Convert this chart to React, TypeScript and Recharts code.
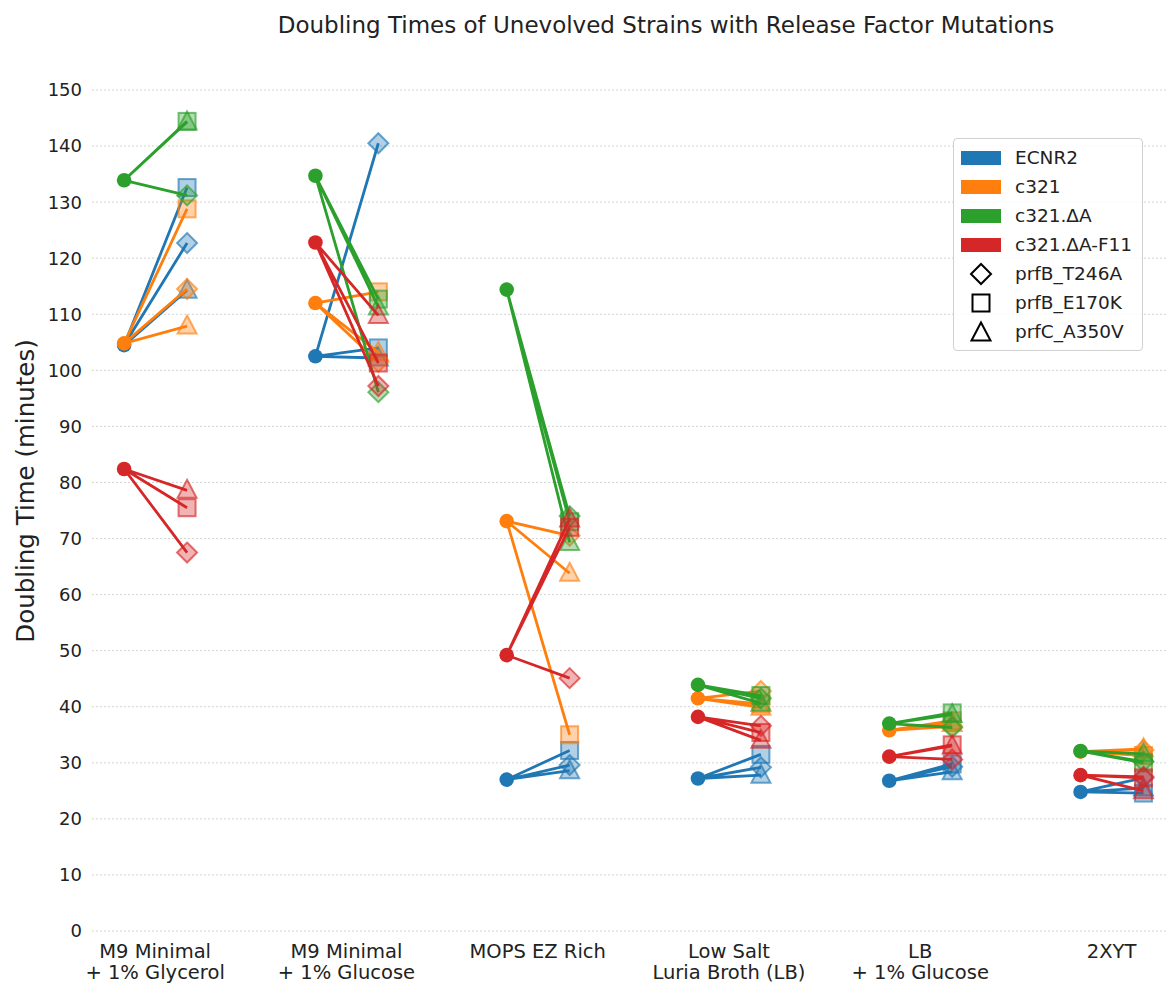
import { ScatterChart, Scatter, XAxis, YAxis, CartesianGrid, Legend } from 'recharts'

const conditionLabels = [
  ['M9 Minimal', '+ 1% Glycerol'],
  ['M9 Minimal', '+ 1% Glucose'],
  ['MOPS EZ Rich', ''],
  ['Low Salt', 'Luria Broth (LB)'],
  ['LB', '+ 1% Glucose'],
  ['2XYT', ''],
]

const strains = ['ECNR2', 'c321', 'c321.ΔA', 'c321.ΔA-F11']
const strainColors = ['#1f77b4', '#ff7f0e', '#2ca02c', '#d62728']
const mutations = ['prfB_T246A', 'prfB_E170K', 'prfC_A350V']
const yTicks = [0, 10, 20, 30, 40, 50, 60, 70, 80, 90, 100, 110, 120, 130, 140, 150]

// unevolved (circle) doubling times, one per condition
const ecnr2Base = [104.5, 102.5, 27.0, 27.2, 26.8, 24.8]
const c321Base = [104.8, 112.0, 73.1, 41.5, 35.8, 32.0]
const c321dABase = [133.9, 134.7, 114.4, 43.9, 37.0, 32.1]
const f11Base = [82.4, 122.8, 49.2, 38.2, 31.1, 27.8]

// mutants: T246A, E170K, A350V
const ecnr2Mut = [
  [122.7, 140.5, 29.6, 29.2, 29.3, 27.3],
  [132.6, 104.0, 32.2, 31.5, 29.8, 24.6],
  [114.3, 102.2, 28.6, 27.8, 28.4, 25.5],
]
const c321Mut = [
  [114.5, 101.5, 70.5, 42.8, 36.5, 32.3],
  [128.8, 114.0, 35.0, 40.5, 37.5, 31.3],
  [107.9, 103.2, 63.8, 39.9, 37.0, 32.5],
]
const c321dAMut = [
  [131.2, 96.1, 74.0, 41.5, 36.3, 30.2],
  [144.4, 112.7, 73.0, 42.0, 38.9, 30.0],
  [144.3, 111.3, 69.3, 40.6, 38.6, 31.6],
]
const f11Mut = [
  [67.5, 97.2, 45.1, 36.6, 30.6, 27.5],
  [75.5, 101.3, 72.0, 35.4, 33.2, 27.3],
  [78.6, 109.8, 73.5, 34.0, 33.0, 25.0],
]

const baseVals = [ecnr2Base, c321Base, c321dABase, f11Base]
const mutVals = [ecnr2Mut, c321Mut, c321dAMut, f11Mut]

const LEFT = -0.162
const RIGHT = 0.167

const font = 'DejaVu Sans, sans-serif'

function markerShape(kind: number, color: string) {
  return (props: any) => {
    const { cx, cy } = props
    const common = {
      fill: color,
      fillOpacity: 0.35,
      stroke: color,
      strokeOpacity: 0.65,
      strokeWidth: 2,
    }
    if (kind === 0) {
      const r = 10
      return <path d={`M${cx},${cy - r}L${cx + r},${cy}L${cx},${cy + r}L${cx - r},${cy}Z`} {...common} />
    }
    if (kind === 1) {
      return <rect x={cx - 8.5} y={cy - 8.5} width={17} height={17} {...common} />
    }
    return <path d={`M${cx},${cy - 10.5}L${cx + 9.5},${cy + 7.5}L${cx - 9.5},${cy + 7.5}Z`} {...common} />
  }
}

const dot = (color: string) => (props: any) => <circle cx={props.cx} cy={props.cy} r={7.3} fill={color} />
const noShape = () => <g />

function XTick(props: any) {
  const { x, y, payload } = props
  const lines = conditionLabels[payload.value]
  return (
    <text x={x} y={y} textAnchor="middle" fontSize={19.5} fontFamily={font} fill="#222">
      <tspan x={x} dy={19}>{lines[0]}</tspan>
      <tspan x={x} dy={21}>{lines[1]}</tspan>
    </text>
  )
}

function YLabel() {
  return (
    <text
      x={34}
      y={491}
      transform="rotate(-90, 34, 491)"
      textAnchor="middle"
      fontSize={24.5}
      fontFamily={font}
      fill="#222"
    >
      Doubling Time (minutes)
    </text>
  )
}

function LegendBox() {
  const row = { display: 'flex', alignItems: 'center', height: 29 }
  const sym = { width: 40, display: 'flex', justifyContent: 'center', marginRight: 14 }
  return (
    <div
      style={{
        border: '1px solid #d0d0d0',
        borderRadius: 4,
        background: 'rgba(255,255,255,0.85)',
        padding: '4px 8px 4px 7px',
        fontFamily: font,
        fontSize: 18.5,
        color: '#222',
        width: 173,
        whiteSpace: 'nowrap',
      }}
    >
      {strains.map((s, i) => (
        <div key={s} style={row}>
          <div style={sym}>
            <div style={{ width: 40, height: 14, background: strainColors[i] }} />
          </div>
          <span>{s}</span>
        </div>
      ))}
      {mutations.map((m, k) => (
        <div key={m} style={row}>
          <div style={sym}>
            <svg width={24} height={24}>
              {k === 0 && <path d="M12,2L22,12L12,22L2,12Z" fill="none" stroke="#000" strokeWidth={2} />}
              {k === 1 && <rect x={3.5} y={3.5} width={17} height={17} fill="none" stroke="#000" strokeWidth={2} />}
              {k === 2 && <path d="M12,2.5L21.5,20.5L2.5,20.5Z" fill="none" stroke="#000" strokeWidth={2} />}
            </svg>
          </div>
          <span>{m}</span>
        </div>
      ))}
    </div>
  )
}

export default function App() {
  const series: any[] = []
  strains.forEach((s, si) => {
    const color = strainColors[si]
    conditionLabels.forEach((_, ci) => {
      const b = baseVals[si][ci]
      const pts: { x: number; y: number }[] = []
      mutVals[si].forEach((mv) => {
        pts.push({ x: ci + LEFT, y: b })
        pts.push({ x: ci + RIGHT, y: mv[ci] })
      })
      series.push(
        <Scatter
          key={`l-${si}-${ci}`}
          data={pts}
          line={{ stroke: color, strokeWidth: 2.8 }}
          shape={noShape}
          legendType="none"
          isAnimationActive={false}
        />
      )
    })
    mutVals[si].forEach((mv, k) => {
      series.push(
        <Scatter
          key={`m-${si}-${k}`}
          data={mv.map((v, ci) => ({ x: ci + RIGHT, y: v }))}
          shape={markerShape(k, color)}
          legendType="none"
          isAnimationActive={false}
        />
      )
    })
    series.push(
      <Scatter
        key={`b-${si}`}
        data={baseVals[si].map((v, ci) => ({ x: ci + LEFT, y: v }))}
        shape={dot(color)}
        legendType="none"
        isAnimationActive={false}
      />
    )
  })

  return (
    <div style={{ position: 'absolute', left: 0, top: 0, width: 1167, height: 983, background: '#fff' }}>
      <div
        style={{
          position: 'absolute',
          top: 12,
          left: 92,
          width: 1148,
          textAlign: 'center',
          fontFamily: font,
          fontSize: 23,
          color: '#222',
          whiteSpace: 'nowrap',
        }}
      >
        Doubling Times of Unevolved Strains with Release Factor Mutations
      </div>
      <ScatterChart width={1167} height={983} margin={{ top: 90, right: 0, bottom: 0, left: 0 }}>
        <CartesianGrid horizontal vertical={false} stroke="#c8c8c8" strokeDasharray="2 2" strokeWidth={0.8} />
        <XAxis
          type="number"
          dataKey="x"
          domain={[-0.33, 5.29]}
          allowDataOverflow
          ticks={[0, 1, 2, 3, 4, 5]}
          tick={<XTick />}
          axisLine={false}
          tickLine={false}
          height={52}
          interval={0}
        />
        <YAxis
          type="number"
          dataKey="y"
          domain={[0, 150]}
          ticks={yTicks}
          interval={0}
          width={92}
          axisLine={false}
          tickLine={false}
          tickMargin={4}
          tick={{ fontSize: 18, fill: '#222', fontFamily: font }}
          label={<YLabel />}
        />
        <Legend
          layout="horizontal"
          verticalAlign="middle"
          align="center"
          content={<LegendBox />}
          wrapperStyle={{ left: 953, top: 138, width: 190 }}
        />
        {series}
      </ScatterChart>
    </div>
  )
}
